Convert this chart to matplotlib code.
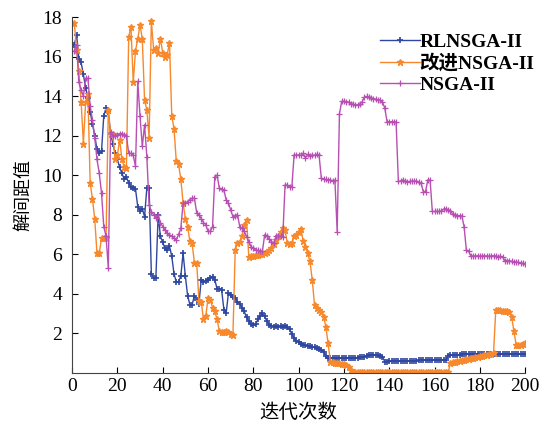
import numpy as np
import matplotlib
matplotlib.use("Agg")
import matplotlib.pyplot as plt

# 解间距值 per iteration
rl_nsga = [
    16.6, 17.1, 15.9, 15.7, 15.1, 14.4, 13.9, 13.2, 12.6, 12.0,
    11.3, 11.1, 11.2, 13.0, 13.4, 13.2, 12.1, 11.6, 11.1, 10.8,
    10.4, 10.1, 9.8, 9.9, 9.6, 9.4, 9.35, 9.3, 8.4, 8.2,
    8.3, 7.9, 9.35, 9.35, 5.0, 4.8, 4.8, 8.0, 6.9, 6.6,
    6.3, 6.2, 6.4, 5.9, 5.0, 4.6, 4.6, 4.9, 6.05, 4.9,
    3.9, 3.45, 3.45, 3.9, 3.7, 3.5, 4.7, 4.6, 4.65, 4.7,
    4.8, 4.87, 4.7, 4.25, 4.25, 4.2, 3.2, 3.0, 4.03, 3.95,
    3.85, 3.8, 3.6, 3.5, 3.3, 3.1, 2.8, 2.6, 2.45, 2.4,
    2.45, 2.7, 2.85, 3.0, 2.85, 2.6, 2.43, 2.38, 2.33, 2.35,
    2.33, 2.35, 2.33, 2.35, 2.3, 2.2, 1.95, 1.75, 1.62, 1.55,
    1.47, 1.41, 1.38, 1.36, 1.33, 1.3, 1.28, 1.25, 1.2, 1.15,
    1.05, 0.85, 0.76, 0.73, 0.73, 0.73, 0.74, 0.74, 0.74, 0.74,
    0.75, 0.75, 0.75, 0.76, 0.76, 0.77, 0.78, 0.8, 0.82, 0.85,
    0.88, 0.9, 0.9, 0.9, 0.88, 0.85, 0.82, 0.56, 0.56, 0.57,
    0.57, 0.58, 0.58, 0.58, 0.59, 0.59, 0.6, 0.6, 0.6, 0.61,
    0.61, 0.61, 0.62, 0.62, 0.62, 0.63, 0.63, 0.63, 0.64, 0.64,
    0.64, 0.64, 0.64, 0.64, 0.65, 0.87, 0.88, 0.89, 0.9, 0.91,
    0.92, 0.93, 0.94, 0.94, 0.95, 0.95, 0.95, 0.95, 0.95, 0.95,
    0.95, 0.95, 0.95, 0.95, 0.95, 0.95, 0.95, 0.95, 0.95, 0.95,
    0.95, 0.95, 0.95, 0.95, 0.95, 0.95, 0.95, 0.95, 0.95, 0.95,
]

improved_nsga = [
    17.7, 16.35, 15.25, 13.7, 11.6, 13.7, 14.1, 9.6, 8.8, 7.8,
    6.05, 6.05, 6.8, 6.8, 6.8, 13.3, 12.1, 12.1, 10.8, 11.0,
    11.8, 10.8, 10.4, 10.35, 17.0, 17.5, 14.7, 16.3, 16.9, 17.6,
    16.9, 13.8, 13.3, 11.9, 17.8, 16.35, 16.45, 16.2, 16.9, 16.2,
    16.0, 16.1, 16.7, 13.0, 12.35, 10.7, 10.55, 9.8, 8.6, 7.8,
    7.4, 6.65, 6.55, 5.55, 5.55, 3.65, 3.6, 2.7, 2.85, 3.77,
    3.7, 3.3, 3.1, 2.7, 2.1, 2.05, 2.07, 2.1, 2.05, 1.95, 1.9,
    6.2, 6.55, 6.6, 6.9, 7.5, 7.75,
    5.88, 5.9, 5.92, 5.95, 5.97, 6.0, 6.0, 6.05, 6.1, 6.2,
    6.3, 6.5, 6.7, 6.9, 7.1, 7.32, 7.2, 6.56, 6.5, 6.56,
    6.9, 6.95, 7.1, 7.27, 6.66, 6.38, 6.05, 5.63, 4.7, 3.43,
    3.3, 3.18, 3.05, 2.84, 2.33, 1.49, 0.56, 0.53, 0.5, 0.48,
    0.47, 0.45, 0.43, 0.4, 0.3, 0.15,
    0.02, 0.02, 0.02, 0.02, 0.02, 0.02, 0.02, 0.02, 0.02, 0.02,
    0.02, 0.02, 0.02, 0.02, 0.02, 0.02, 0.02, 0.02, 0.02, 0.02,
    0.02, 0.02, 0.02, 0.02, 0.02, 0.02, 0.02, 0.02, 0.02, 0.02,
    0.02, 0.02, 0.02, 0.02, 0.02, 0.02, 0.02, 0.02, 0.02, 0.02,
    0.02, 0.02, 0.02,
    0.5, 0.53, 0.55, 0.58, 0.6, 0.63, 0.65, 0.68, 0.7, 0.73,
    0.75, 0.78, 0.8, 0.83, 0.85, 0.88, 0.9, 0.93, 0.96, 1.0,
    3.18, 3.18, 3.16, 3.14, 3.12, 3.1, 3.05, 2.84, 2.1, 1.4,
    1.4, 1.42, 1.45, 1.5,
]

nsga = [
    16.3, 16.6, 14.7, 14.3, 14.0, 14.9, 14.9, 13.5, 12.8, 11.9,
    10.8, 10.1, 9.1, 7.4, 6.9, 5.3,
    12.2, 12.0, 12.0, 12.05, 12.1, 12.1, 12.05, 12.0, 11.1, 11.1, 11.0, 10.45,
    14.74, 12.97, 11.45, 12.55, 10.94,
    8.5, 8.15, 8.0, 7.85, 7.98, 7.6, 7.4, 7.23, 7.07, 6.98, 6.9, 6.8, 6.73, 7.0, 7.3,
    8.58, 8.6, 8.65, 8.75, 8.83, 8.83, 8.1, 8.0, 7.8, 7.6, 7.5, 7.15, 7.15, 7.4,
    9.93, 10.0, 9.34, 9.3, 9.25, 8.75, 8.6, 8.24, 7.9, 7.95,
    8.0, 7.4, 7.3, 7.15, 6.89, 6.64, 6.38, 6.3, 6.2, 6.2,
    6.15, 6.15, 6.98, 6.9, 6.75, 6.64, 6.56, 6.9, 6.9, 6.9, 6.89,
    9.5, 9.5, 9.4, 9.4,
    11.03, 11.0, 11.03, 11.0, 11.1, 10.86, 11.05, 10.98, 11.0, 11.0, 11.05, 11.02,
    9.85, 9.8, 9.78, 9.77, 9.75, 9.72, 9.75,
    7.14, 13.1,
    13.73, 13.75, 13.7, 13.7, 13.6, 13.6, 13.55, 13.55, 13.6, 13.7,
    13.95, 13.98, 13.95, 13.9, 13.85, 13.85, 13.8, 13.8, 13.7, 13.4,
    12.71, 12.7, 12.7, 12.7, 12.7,
    9.68, 9.7, 9.76, 9.68, 9.64, 9.68, 9.7, 9.7, 9.7, 9.64, 9.6, 9.17, 9.17, 9.76, 9.76,
    8.16, 8.16, 8.16, 8.16, 8.2, 8.28, 8.3, 8.25, 8.16, 8.05,
    8.0, 7.95, 7.95, 7.95, 7.4, 6.22, 6.15, 5.91, 5.91,
    5.91, 5.92, 5.9, 5.91, 5.92, 5.91, 5.9, 5.91, 5.92, 5.91, 5.88, 5.9, 5.85,
    5.68, 5.68, 5.66, 5.64, 5.62, 5.6, 5.58, 5.56, 5.54, 5.51,
]

series_names = ["RLNSGA-II", "改进NSGA-II", "NSGA-II"]
x_ticks = list(range(0, 201, 20))
y_ticks = list(range(2, 19, 2))

fonts = ["Liberation Serif", "Noto Sans CJK SC"]
plt.rcParams["font.family"] = fonts
plt.rcParams["font.size"] = 14

fig = plt.figure(figsize=(5.5, 4.26), dpi=100)
ax = fig.add_axes([0.131, 0.125, 0.824, 0.835])

styles = [
    dict(color="#2f47a0", marker="+", markersize=4, markeredgewidth=1.2),
    dict(color="#f7882b", marker="*", markersize=4.5),
    dict(color="#b84fb3", marker="+", markersize=5, markeredgewidth=0.9),
]
for y, name, st in zip([rl_nsga, improved_nsga, nsga], series_names, styles):
    x = np.arange(1, len(y) + 1)
    ax.plot(x, y, linewidth=1.0, label=name, **st)

ax.set_xlim(0, 200)
ax.set_ylim(0, 18)
ax.set_xticks(x_ticks)
ax.set_yticks(y_ticks)
ax.tick_params(direction="in", length=4, width=0.8, labelsize=14)
ax.tick_params(axis="y", pad=7)
for side in ["top", "right"]:
    ax.spines[side].set_visible(False)
for side in ["left", "bottom"]:
    ax.spines[side].set_color("#444444")

ax.set_xlabel("迭代次数", fontsize=14, family=["Noto Sans CJK SC"], labelpad=5)
ax.set_ylabel("解间距值", fontsize=13, family=["Noto Sans CJK SC"], labelpad=7)

leg = ax.legend(loc="upper left", bbox_to_anchor=(0.662, 0.977), frameon=False,
                handlelength=2.05, handletextpad=0.0, labelspacing=0.18,
                borderaxespad=0.0, prop={"family": fonts, "weight": "bold", "size": 14})

fig.savefig("out.png", dpi=100)
